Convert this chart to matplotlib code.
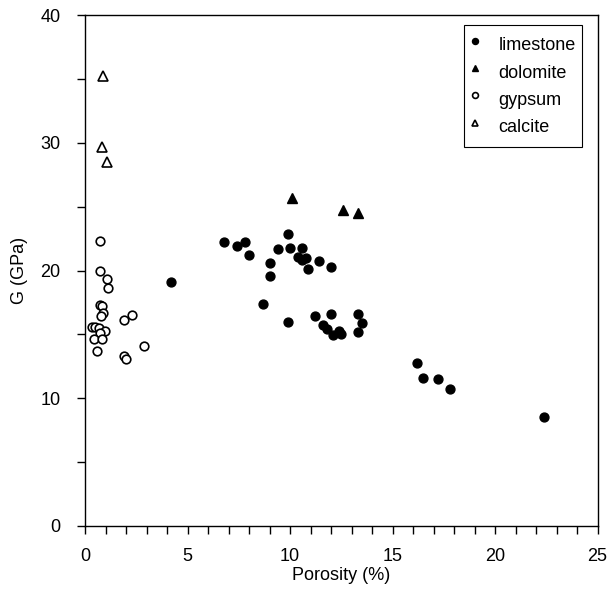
import matplotlib
matplotlib.use("Agg")
from matplotlib import pyplot
from matplotlib.ticker import MultipleLocator

pyplot.rcParams["font.family"] = ["Liberation Sans", "DejaVu Sans"]
pyplot.rcParams["font.size"] = 13

# Porosity (%) and shear modulus G (GPa) per rock type
limestone_x = [4.2, 6.8, 7.4, 7.8, 8.0, 9.9, 9.4, 10.0, 10.6, 10.4, 10.8, 10.6,
               11.4, 10.9, 12.0, 9.0, 9.0, 8.7, 9.9, 11.2, 12.0, 11.6, 11.8,
               12.1, 12.4, 12.5, 13.3, 13.5, 13.3, 16.2, 16.5, 17.2, 17.8, 22.4]
limestone_g = [19.1, 22.2, 21.95, 22.2, 21.25, 22.87, 21.72, 21.77, 21.77, 21.07,
               20.99, 20.8, 20.78, 20.13, 20.29, 20.55, 19.55, 17.4, 15.96, 16.43,
               16.56, 15.7, 15.39, 14.95, 15.26, 15.05, 16.56, 15.86, 15.21,
               12.79, 11.59, 11.48, 10.73, 8.52]
dolomite_x = [10.1, 12.6, 13.3]
dolomite_g = [25.7, 24.7, 24.5]
gypsum_x = [0.72, 0.75, 1.09, 1.11, 0.73, 0.84, 0.89, 0.78, 2.28, 1.92, 0.33,
            0.49, 0.67, 0.98, 0.73, 0.44, 0.81, 0.57, 2.86, 1.90, 2.01]
gypsum_g = [22.34, 20.0, 19.3, 18.6, 17.3, 17.2, 16.7, 16.4, 16.5, 16.1, 15.57,
            15.55, 15.5, 15.26, 15.1, 14.66, 14.66, 13.67, 14.09, 13.3, 13.1]
calcite_x = [0.86, 0.84, 1.06]
calcite_g = [35.2, 29.7, 28.5]

fig = pyplot.figure(figsize=(6.08, 5.90), dpi=100)
ax = fig.add_axes([85 / 608, 64 / 590, 512.6 / 608, 511 / 590])

ax.plot(limestone_x, limestone_g, "o", color="black", markersize=6.4,
        label="limestone", clip_on=False)
ax.plot(dolomite_x, dolomite_g, "^", color="black", markersize=6.6,
        label="dolomite", clip_on=False)
ax.plot(gypsum_x, gypsum_g, "o", markerfacecolor="white", markeredgecolor="black",
        markeredgewidth=1.2, markersize=6.2, label="gypsum", clip_on=False)
ax.plot(calcite_x, calcite_g, "^", markerfacecolor="white", markeredgecolor="black",
        markeredgewidth=1.2, markersize=6.6, label="calcite", clip_on=False)

ax.set_xlim(0, 25)
ax.set_ylim(0, 40)
ax.xaxis.set_major_locator(MultipleLocator(5))
ax.xaxis.set_minor_locator(MultipleLocator(1))
ax.yaxis.set_major_locator(MultipleLocator(10))
ax.yaxis.set_minor_locator(MultipleLocator(5))
ax.tick_params(which="both", direction="out", top=False, right=False,
               length=6, width=1)
ax.tick_params(axis="x", which="both", pad=9.5)
ax.tick_params(axis="y", which="both", pad=11.5)
for spine in ax.spines.values():
    spine.set_linewidth(1)

ax.set_xlabel("Porosity (%)", labelpad=2)
ax.set_ylabel("G (GPa)", labelpad=9)

# taller handle rows give the legend its roomy top and bottom padding
leg = ax.legend(loc="upper right", markerscale=0.68, fancybox=False,
                edgecolor="black", framealpha=1, handlelength=0.45,
                handleheight=1.95, handletextpad=1.1, borderpad=0.35,
                labelspacing=0.0, borderaxespad=0,
                bbox_to_anchor=(0.970, 0.981))
leg.get_frame().set_linewidth(0.8)

pyplot.savefig("out.png", dpi=100)
